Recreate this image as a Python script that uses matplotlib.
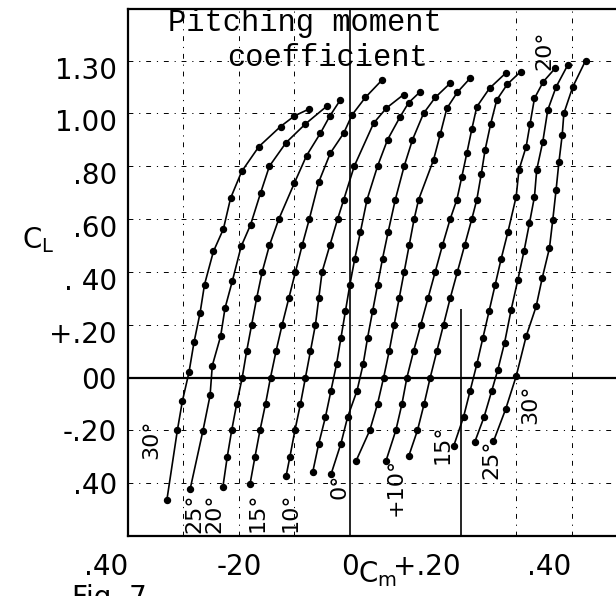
import matplotlib
matplotlib.use("Agg")
import matplotlib.pyplot as plt
import matplotlib.transforms as mtransforms

# lift coefficient / pitching moment coefficient, one curve per deflection
cl_m30 = [-0.465, -0.20, -0.09, 0.02, 0.133, 0.245, 0.352, 0.477, 0.562, 0.679, 0.78, 0.874, 0.95, 0.99, 1.016]
cm_m30 = [-0.330, -0.311, -0.302, -0.290, -0.281, -0.270, -0.262, -0.246, -0.228, -0.215, -0.195, -0.164, -0.125, -0.100, -0.074]

cl_m25 = [-0.423, -0.203, -0.068, 0.045, 0.156, 0.263, 0.364, 0.496, 0.578, 0.698, 0.80, 0.889, 0.96, 1.028]
cm_m25 = [-0.288, -0.265, -0.252, -0.248, -0.233, -0.225, -0.212, -0.196, -0.179, -0.161, -0.145, -0.115, -0.080, -0.041]

cl_m20 = [-0.416, -0.30, -0.20, -0.10, 0.0, 0.1, 0.2, 0.3, 0.4, 0.5, 0.6, 0.736, 0.84, 0.925, 0.99, 1.051]
cm_m20 = [-0.229, -0.221, -0.213, -0.204, -0.194, -0.186, -0.177, -0.168, -0.158, -0.145, -0.128, -0.100, -0.078, -0.053, -0.036, -0.017]

cl_m15 = [-0.404, -0.30, -0.20, -0.10, 0.0, 0.1, 0.2, 0.3, 0.4, 0.5, 0.6, 0.74, 0.85, 0.925, 0.994, 1.06, 1.126]
cm_m15 = [-0.180, -0.171, -0.162, -0.152, -0.143, -0.133, -0.122, -0.110, -0.098, -0.086, -0.073, -0.056, -0.035, -0.011, 0.004, 0.028, 0.058]

cl_m10 = [-0.374, -0.30, -0.20, -0.10, 0.0, 0.1, 0.2, 0.3, 0.4, 0.5, 0.6, 0.673, 0.8, 0.963, 1.02, 1.071]
cm_m10 = [-0.115, -0.108, -0.099, -0.089, -0.080, -0.071, -0.062, -0.056, -0.050, -0.036, -0.022, -0.011, 0.008, 0.043, 0.066, 0.097]

cl_m05 = [-0.359, -0.25, -0.15, -0.05, 0.05, 0.15, 0.25, 0.35, 0.45, 0.55, 0.673, 0.8, 0.9, 0.988, 1.04, 1.082]
cm_m05 = [-0.067, -0.056, -0.044, -0.034, -0.024, -0.016, -0.008, 0.000, 0.009, 0.019, 0.031, 0.050, 0.068, 0.091, 0.106, 0.127]

cl_p00 = [-0.367, -0.25, -0.15, -0.05, 0.05, 0.15, 0.25, 0.35, 0.45, 0.55, 0.673, 0.8, 0.9, 1.0, 1.06, 1.114]
cm_p00 = [-0.034, -0.016, -0.004, 0.013, 0.024, 0.032, 0.041, 0.050, 0.059, 0.069, 0.082, 0.098, 0.113, 0.133, 0.154, 0.181]

cl_p05 = [-0.317, -0.2, -0.1, 0.0, 0.1, 0.2, 0.3, 0.4, 0.5, 0.6, 0.673, 0.824, 0.92, 1.019, 1.08, 1.133]
cm_p05 = [0.011, 0.036, 0.050, 0.061, 0.071, 0.080, 0.089, 0.098, 0.107, 0.116, 0.124, 0.151, 0.163, 0.175, 0.194, 0.217]

cl_p10 = [-0.317, -0.2, -0.1, 0.0, 0.1, 0.2, 0.3, 0.4, 0.5, 0.6, 0.673, 0.76, 0.849, 0.94, 1.025, 1.095, 1.154]
cm_p10 = [0.065, 0.083, 0.094, 0.103, 0.115, 0.128, 0.141, 0.154, 0.167, 0.181, 0.193, 0.202, 0.211, 0.220, 0.229, 0.252, 0.282]

cl_p15 = [-0.299, -0.2, -0.1, 0.0, 0.1, 0.2, 0.3, 0.4, 0.5, 0.6, 0.673, 0.77, 0.862, 0.96, 1.051, 1.11, 1.158]
cm_p15 = [0.106, 0.122, 0.134, 0.145, 0.157, 0.169, 0.181, 0.194, 0.207, 0.220, 0.229, 0.237, 0.244, 0.254, 0.265, 0.284, 0.308]

cl_p20 = [-0.261, -0.15, -0.05, 0.05, 0.15, 0.25, 0.35, 0.45, 0.55, 0.685, 0.786, 0.874, 0.96, 1.057, 1.12, 1.17]
cm_p20 = [0.187, 0.205, 0.217, 0.229, 0.240, 0.251, 0.262, 0.273, 0.285, 0.300, 0.305, 0.318, 0.325, 0.333, 0.349, 0.370]

cl_p25 = [-0.246, -0.15, -0.05, 0.03, 0.131, 0.257, 0.370, 0.477, 0.585, 0.685, 0.786, 0.893, 1.013, 1.10, 1.183]
cm_p25 = [0.225, 0.242, 0.256, 0.267, 0.279, 0.291, 0.303, 0.314, 0.324, 0.333, 0.337, 0.348, 0.357, 0.372, 0.393]

cl_p30 = [-0.242, -0.12, 0.005, 0.156, 0.269, 0.377, 0.49, 0.597, 0.711, 0.814, 0.918, 1.0, 1.10, 1.199]
cm_p30 = [0.259, 0.281, 0.300, 0.318, 0.336, 0.347, 0.360, 0.366, 0.372, 0.377, 0.383, 0.386, 0.402, 0.425]

curves = [(cm_m30, cl_m30), (cm_m25, cl_m25), (cm_m20, cl_m20), (cm_m15, cl_m15),
          (cm_m10, cl_m10), (cm_m05, cl_m05), (cm_p00, cl_p00), (cm_p05, cl_p05),
          (cm_p10, cl_p10), (cm_p15, cl_p15), (cm_p20, cl_p20), (cm_p25, cl_p25),
          (cm_p30, cl_p30)]

# curve labels as lettered on the sheet: text, cm, cl
labels = ["30°", "25°", "20°", "15°", "10°", "0°", "+10°", "15°", "25°", "30°", "20°"]
label_cm = [-0.358, -0.281, -0.245, -0.166, -0.106, -0.019, 0.083, 0.168, 0.256, 0.325, 0.350]
label_cl = [-0.234, -0.514, -0.514, -0.51, -0.51, -0.412, -0.416, -0.253, -0.31, -0.102, 1.24]

xticks = [-0.4, -0.2, 0.0, 0.2, 0.4]
xticklabels = [".40", "-20", "0", "+.20", ".40"]
yticks = [-0.4, -0.2, 0.0, 0.2, 0.4, 0.6, 0.8, 1.0, 1.2]
yticklabels = [".40", "-.20", "00", "+.20", ". 40", ".60", ".80", "1.00", "1.30"]

fig = plt.figure(figsize=(6.16, 5.96), dpi=100)
ax = fig.add_axes([128 / 616, 1 - 536 / 596, 488 / 616, 527 / 596])
ax.set_xlim(-0.40, 0.48)
ax.set_ylim(-0.60, 1.395)

# dash-dot construction grid
grid_style = dict(color="black", lw=0.7, linestyle=(0, (5, 6, 1.2, 6)), zorder=1)
for y in yticks:
    if y != 0:
        ax.axhline(y, **grid_style)
for x in [-0.3, -0.2, -0.1, 0.3, 0.4]:
    ax.axvline(x, **grid_style)

ax.axhline(0, color="black", lw=1.6, zorder=2)
ax.axvline(0, color="black", lw=1.2, zorder=2)
ax.vlines(0.2, -0.6, 0.26, color="black", lw=1.2, zorder=2)

for cm, cl in curves:
    ax.plot(cm, cl, color="black", lw=1.2, marker="o", ms=4.3, zorder=3)

for t, x, y in zip(labels, label_cm, label_cl):
    ax.text(x, y, t, rotation=90, ha="center", va="center", fontsize=16,
            family="DejaVu Sans", clip_on=True, zorder=4)

mono = "Liberation Mono"
ax.text(-0.328, 1.342, "Pitching moment", family=mono, fontsize=22,
        ha="left", va="center", zorder=4)
ax.text(-0.2215, 1.2095, "coefficient", family=mono, fontsize=22,
        ha="left", va="center", zorder=4)

ax.set_xticks(xticks)
ax.set_xticklabels(xticklabels, fontsize=20)
ax.set_yticks(yticks)
ax.set_yticklabels(yticklabels, fontsize=20)
ax.tick_params(length=0)
ax.tick_params(axis="x", pad=12)
ax.tick_params(axis="y", pad=8)

xl = ax.get_xticklabels()
xl[0].set_ha("right")
xl[3].set_ha("right")
xl[4].set_ha("right")
shift = mtransforms.ScaledTranslation(0, -7 / 100, fig.dpi_scale_trans)
for lab in ax.get_yticklabels()[3:]:
    lab.set_transform(lab.get_transform() + shift)

for side in ["left", "top", "bottom"]:
    ax.spines[side].set_linewidth(1.6)
ax.spines["right"].set_visible(False)

fig.text(22 / 616, 1 - 240 / 596, "C$_\\mathrm{L}$", fontsize=20, ha="left", va="center")
fig.text(358 / 616, 1 - 574 / 596, "C$_\\mathrm{m}$", fontsize=20, ha="left", va="center")
fig.text(72 / 616, 1 - 584 / 596, "Fig. 7", fontsize=20, ha="left", va="top")

fig.savefig("out.png", dpi=100)
